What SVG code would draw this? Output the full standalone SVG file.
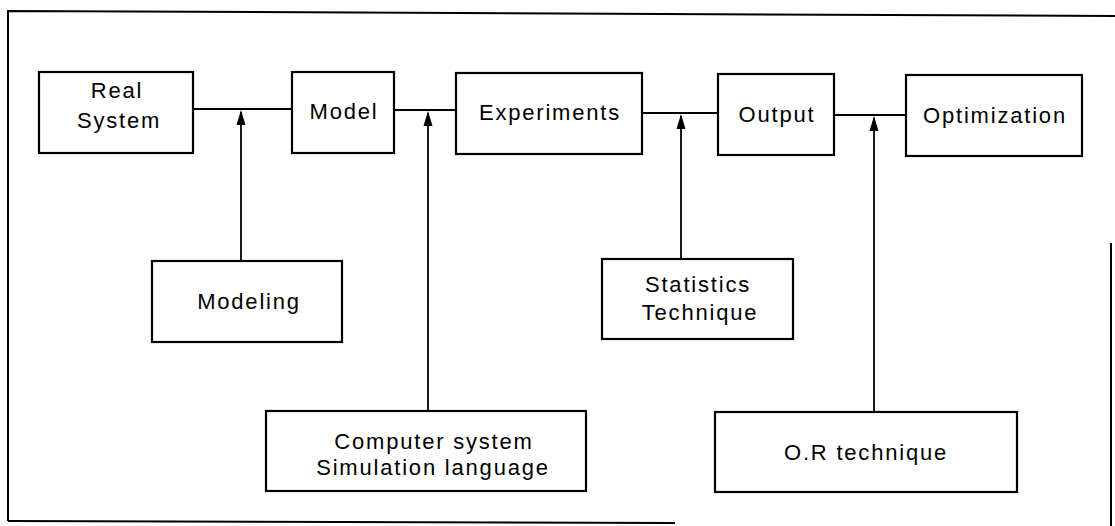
<svg xmlns="http://www.w3.org/2000/svg" width="1115" height="526" viewBox="0 0 1115 526">
  <style>
    .box { fill: #fff; stroke: #000; stroke-width: 2.2; }
    .lbl { font-family: "Liberation Sans", Arial, sans-serif; font-size: 22px; letter-spacing: 1.8px; fill: #000; text-anchor: middle; }
    .frame { fill: none; stroke: #000; stroke-width: 2; }
    .link { fill: none; stroke: #000; stroke-width: 2; }
    .feed { fill: none; stroke: #000; stroke-width: 1.8; }
    .tip { fill: #000; }
  </style>
  <defs>
    <!-- upward arrowhead, tip at the origin -->
    <path id="tip" class="tip" d="M0 0 L4.5 15 L-4.5 15 Z"/>
  </defs>

  <rect width="1115" height="526" fill="#fff"/>

  <!-- outer border -->
  <g id="frame">
    <path class="frame" d="M8 521 L8 11 L1115 16"/>
    <path class="frame" d="M8 521 L675 523"/>
    <path class="frame" d="M1111 243 L1111 526"/>
  </g>

  <!-- connectors -->
  <g id="connectors">
    <path class="link" d="M193 109 L292 109"/>
    <path class="link" d="M394 110 L456 110"/>
    <path class="link" d="M642 113 L718 113"/>
    <path class="link" d="M834 115 L906 115"/>
    <path class="feed" d="M241 261 L241 112"/>
    <path class="feed" d="M428 411 L428 113"/>
    <path class="feed" d="M681 259 L681 116"/>
    <path class="feed" d="M874 412 L874 118"/>
    <use href="#tip" x="241" y="110"/>
    <use href="#tip" x="428" y="111"/>
    <use href="#tip" x="681" y="114"/>
    <use href="#tip" x="874" y="116"/>
  </g>

  <g id="real-system">
    <rect class="box" x="39" y="72" width="154" height="81"/>
    <text class="lbl" x="117" y="98">Real</text>
    <text class="lbl" x="119" y="128">System</text>
  </g>

  <g id="model">
    <rect class="box" x="292" y="72" width="102" height="81"/>
    <text class="lbl" x="344" y="119">Model</text>
  </g>

  <g id="experiments">
    <rect class="box" x="456" y="73" width="186" height="81"/>
    <text class="lbl" x="550" y="120">Experiments</text>
  </g>

  <g id="output">
    <rect class="box" x="718" y="74" width="116" height="81"/>
    <text class="lbl" x="777" y="122">Output</text>
  </g>

  <g id="optimization">
    <rect class="box" x="906" y="75" width="176" height="81"/>
    <text class="lbl" x="995" y="123">Optimization</text>
  </g>

  <g id="modeling">
    <rect class="box" x="152" y="261" width="190" height="81"/>
    <text class="lbl" x="249" y="309">Modeling</text>
  </g>

  <g id="statistics">
    <rect class="box" x="602" y="259" width="191" height="80"/>
    <text class="lbl" x="698" y="292">Statistics</text>
    <text class="lbl" x="700" y="320">Technique</text>
  </g>

  <g id="computer">
    <rect class="box" x="266" y="411" width="320" height="80"/>
    <text class="lbl" x="434" y="449">Computer system</text>
    <text class="lbl" x="433" y="475">Simulation language</text>
  </g>

  <g id="or-technique">
    <rect class="box" x="715" y="412" width="302" height="80"/>
    <text class="lbl" x="866" y="460">O.R technique</text>
  </g>
</svg>
